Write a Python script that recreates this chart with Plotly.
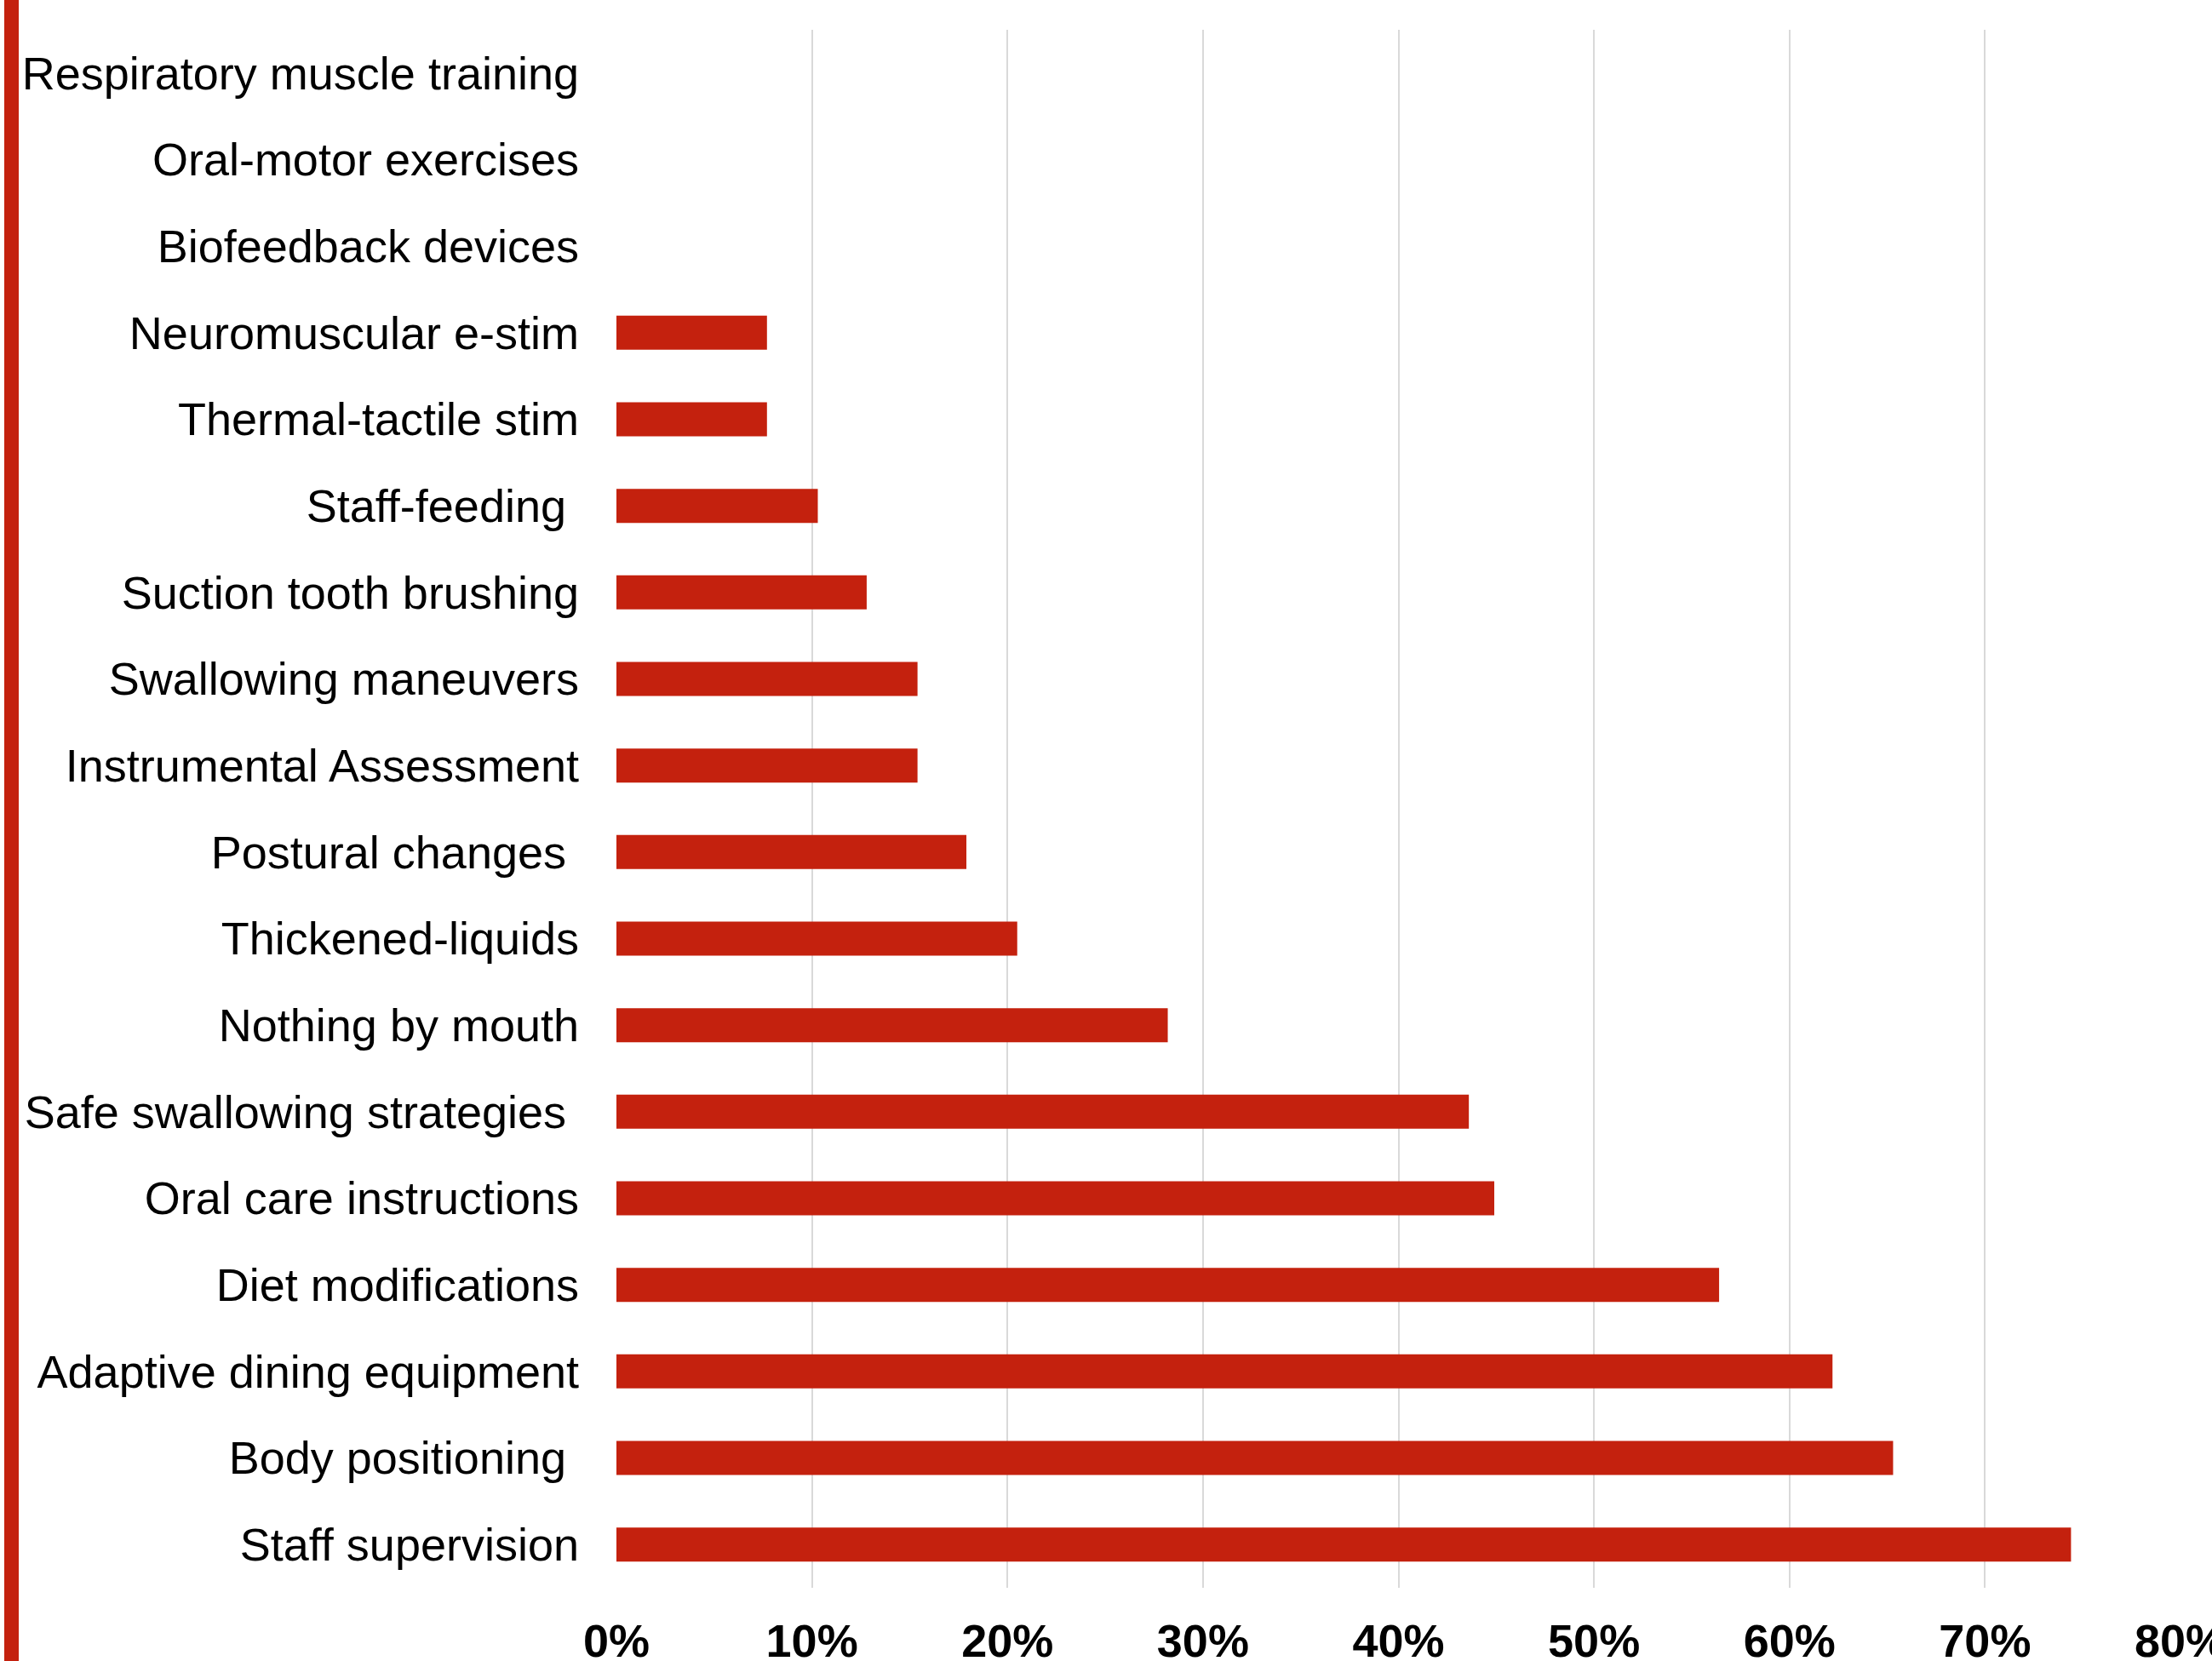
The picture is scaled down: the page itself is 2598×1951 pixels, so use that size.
import plotly.graph_objects as go

categories = [
    "Respiratory muscle training",
    "Oral-motor exercises",
    "Biofeedback devices",
    "Neuromuscular e-stim",
    "Thermal-tactile stim",
    "Staff-feeding\u00a0",
    "Suction tooth brushing",
    "Swallowing maneuvers",
    "Instrumental Assessment",
    "Postural changes\u00a0",
    "Thickened-liquids",
    "Nothing by mouth",
    "Safe swallowing strategies\u00a0",
    "Oral care instructions",
    "Diet modifications",
    "Adaptive dining equipment",
    "Body positioning\u00a0",
    "Staff supervision",
]
values = [0, 0, 0, 7.7, 7.7, 10.3, 12.8, 15.4, 15.4, 17.9, 20.5, 28.2,
          43.6, 44.9, 56.4, 62.2, 65.3, 74.4]
x_ticks = [0, 10, 20, 30, 40, 50, 60, 70, 80]
x_tick_labels = ["0%", "10%", "20%", "30%", "40%", "50%", "60%", "70%", "80%"]

W, H = 2598, 1951
L, R, T, B = 724, 37, 35, 86

fig = go.Figure(go.Bar(
    x=values, y=categories, orientation="h",
    marker=dict(color="#C4210E", line=dict(width=0)),
))

fig.update_layout(
    width=W, height=H,
    margin=dict(l=L, r=R, t=T, b=B, pad=0, autoexpand=False),
    paper_bgcolor="white", plot_bgcolor="white",
    bargap=0.607,
    showlegend=False,
    font=dict(family="Liberation Sans, Arial, sans-serif", color="black", size=54),
    xaxis=dict(
        range=[0, 80], tickmode="array", tickvals=x_ticks, ticktext=x_tick_labels,
        showgrid=True, gridcolor="#D9D9D9", gridwidth=2,
        zeroline=False, showline=False, ticks="",
        tickfont=dict(size=54, weight="bold", color="black"),
        ticklabelstandoff=26, automargin=False, ticklabeloverflow="allow",
    ),
    yaxis=dict(
        type="category", categoryorder="array", categoryarray=categories,
        range=[len(categories) - 0.5, -0.5],
        showgrid=False, zeroline=False, showline=False, ticks="",
        tickfont=dict(size=54, color="black"),
        ticklabelstandoff=43, automargin=False,
    ),
    shapes=[dict(
        type="rect", xref="paper", yref="paper",
        x0=(5 - L) / (W - L - R), x1=(22 - L) / (W - L - R),
        y0=-0.2, y1=1.2,
        fillcolor="#C4210E", line=dict(width=0), layer="above",
    )],
)

fig.write_html(
    "out.html",
    config={"displayModeBar": False},
    post_script="document.body.style.margin='0';document.body.style.overflow='hidden';",
)
